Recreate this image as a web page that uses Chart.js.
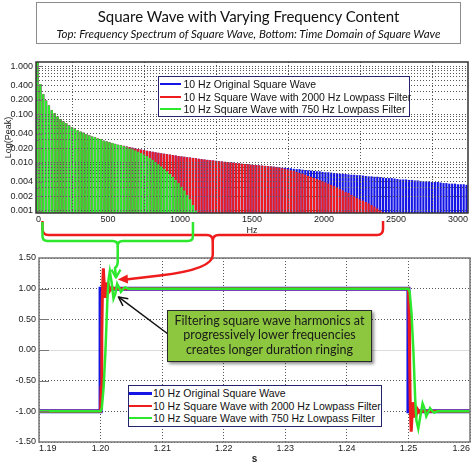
<!DOCTYPE html>
<html>
<head>
<meta charset="utf-8">
<title>Square Wave with Varying Frequency Content</title>
<script src="https://cdn.jsdelivr.net/npm/chart.js@4.4.1/dist/chart.umd.min.js"></script>
<style>
  html, body { margin: 0; padding: 0; background: #fff; }
  #page { position: relative; width: 474px; height: 466px; overflow: hidden; }
  canvas { position: absolute; left: 0; }
  #spectrumChart { top: 50px; }
  #timeChart { top: 245px; }
  #overlay { top: 0; z-index: 2; pointer-events: none; }
  #titleBox { position: absolute; left: 36px; top: 2px; width: 425px; height: 42px; box-sizing: border-box;
    border: 1px solid #8c8c8c; text-align: center; color: #111; font-family: Lato, "Open Sans", sans-serif; z-index: 3; }
  #titleBox .main { font-size: 15px; line-height: 17px; margin-top: 5px; }
  #titleBox .sub { font-size: 11.5px; line-height: 14px; font-style: italic; margin-top: 2px; }
  .legend { position: absolute; background: #fff; border: 1.5px solid #23236e; box-sizing: border-box;
    font-family: "Liberation Sans", Arial, sans-serif; font-size: 10.5px; color: #111; z-index: 3; }
  .legend .row { position: relative; white-space: nowrap; }
  .legend .swatch { position: absolute; top: 50%; }
  #spectrumLegend { left: 158px; top: 76px; width: 252px; height: 41px; padding-top: 1.4px; }
  #spectrumLegend .row { height: 12.2px; line-height: 12.2px; padding-left: 24.5px; }
  #spectrumLegend .swatch { left: 0.5px; width: 21px; }
  #timeLegend { left: 128px; top: 385px; width: 254px; height: 42px; padding-top: 1.2px; }
  #timeLegend .row { height: 12.5px; line-height: 12.5px; padding-left: 24px; }
  #timeLegend .swatch { left: 0; width: 23px; }
  #callout { position: absolute; left: 167px; top: 310px; width: 205px; height: 52px; box-sizing: border-box;
    background: #8dc63f; border: 1.5px solid #2a2a2a; box-shadow: 2px 2px 3px rgba(0,0,0,0.45);
    font-family: Lato, "Open Sans", sans-serif; font-size: 12.5px; line-height: 14.6px; color: #1a1a1a;
    text-align: center; padding-top: 2.9px; z-index: 3; }
</style>
</head>
<body>
<div id="page">
  <div id="titleBox">
    <div class="main">Square Wave with Varying Frequency Content</div>
    <div class="sub">Top: Frequency Spectrum of Square Wave, Bottom: Time Domain of Square Wave</div>
  </div>
  <canvas id="spectrumChart" width="474" height="192"></canvas>
  <canvas id="timeChart" width="474" height="221"></canvas>
  <canvas id="overlay" width="474" height="466"></canvas>
  <div id="spectrumLegend" class="legend"></div>
  <div id="timeLegend" class="legend"></div>
  <div id="callout">Filtering square wave harmonics at<br>progressively lower frequencies<br>creates longer duration ringing</div>
</div>
<script>
// Series names and colours (same order in both plots)
var seriesNames = ['10 Hz Original Square Wave', '10 Hz Square Wave with 2000 Hz Lowpass Filter', '10 Hz Square Wave with 750 Hz Lowpass Filter'];
var seriesColors = ['#1515e6', '#ee1c1c', '#2de82d'];

// Top plot: odd harmonics of 10 Hz and their peak amplitude
var harmonicHz = [
  10, 30, 50, 70, 90, 110, 130, 150, 170, 190,
  210, 230, 250, 270, 290, 310, 330, 350, 370, 390,
  410, 430, 450, 470, 490, 510, 530, 550, 570, 590,
  610, 630, 650, 670, 690, 710, 730, 750, 770, 790,
  810, 830, 850, 870, 890, 910, 930, 950, 970, 990,
  1010, 1030, 1050, 1070, 1090, 1110, 1130, 1150, 1170, 1190,
  1210, 1230, 1250, 1270, 1290, 1310, 1330, 1350, 1370, 1390,
  1410, 1430, 1450, 1470, 1490, 1510, 1530, 1550, 1570, 1590,
  1610, 1630, 1650, 1670, 1690, 1710, 1730, 1750, 1770, 1790,
  1810, 1830, 1850, 1870, 1890, 1910, 1930, 1950, 1970, 1990,
  2010, 2030, 2050, 2070, 2090, 2110, 2130, 2150, 2170, 2190,
  2210, 2230, 2250, 2270, 2290, 2310, 2330, 2350, 2370, 2390,
  2410, 2430, 2450, 2470, 2490, 2510, 2530, 2550, 2570, 2590,
  2610, 2630, 2650, 2670, 2690, 2710, 2730, 2750, 2770, 2790,
  2810, 2830, 2850, 2870, 2890, 2910, 2930, 2950, 2970, 2990
];
var originalPeak = [
  1.27, 0.42, 0.26, 0.19, 0.15, 0.12, 0.103, 0.089, 0.079, 0.070,
  0.064, 0.058, 0.053, 0.050, 0.046, 0.043, 0.041, 0.038, 0.036, 0.034,
  0.033, 0.031, 0.030, 0.028, 0.027, 0.026, 0.025, 0.024, 0.023, 0.0227,
  0.0219, 0.0212, 0.0206, 0.0200, 0.0194, 0.0188, 0.0183, 0.0178, 0.0173, 0.0169,
  0.0165, 0.0161, 0.0157, 0.0153, 0.0150, 0.0147, 0.0144, 0.0141, 0.0138, 0.0135,
  0.0132, 0.0130, 0.0127, 0.0125, 0.0123, 0.0121, 0.0118, 0.0116, 0.0114, 0.0112,
  0.0110, 0.0109, 0.0107, 0.0105, 0.0104, 0.0102, 0.0101, 0.0099, 0.0098, 0.0096,
  0.0095, 0.0093, 0.0092, 0.0091, 0.0089, 0.0088, 0.0087, 0.0086, 0.0085, 0.0084,
  0.0083, 0.0082, 0.0081, 0.0080, 0.0079, 0.0077, 0.0077, 0.0076, 0.0075, 0.0073,
  0.0072, 0.0072, 0.0070, 0.0069, 0.0068, 0.0067, 0.0066, 0.0065, 0.0065, 0.0063,
  0.0062, 0.0062, 0.0061, 0.0060, 0.0059, 0.0058, 0.0058, 0.0057, 0.0056, 0.0055,
  0.0055, 0.0054, 0.0054, 0.0053, 0.0052, 0.0051, 0.0051, 0.0050, 0.0050, 0.0049,
  0.0048, 0.0047, 0.0047, 0.0047, 0.0046, 0.0045, 0.0044, 0.0044, 0.0044, 0.0043,
  0.0043, 0.0042, 0.0042, 0.0041, 0.0040, 0.0040, 0.0040, 0.0039, 0.0039, 0.0039,
  0.0038, 0.0037, 0.0037, 0.0036, 0.0036, 0.0036, 0.0035, 0.0035, 0.0035, 0.0034
];
var lowpass2000Peak = [
  1.27, 0.42, 0.26, 0.19, 0.15, 0.12, 0.103, 0.089, 0.079, 0.070,
  0.064, 0.058, 0.053, 0.050, 0.046, 0.043, 0.041, 0.038, 0.036, 0.034,
  0.033, 0.031, 0.030, 0.028, 0.027, 0.026, 0.025, 0.024, 0.023, 0.0227,
  0.0219, 0.0212, 0.0206, 0.0200, 0.0194, 0.0188, 0.0183, 0.0178, 0.0173, 0.0169,
  0.0165, 0.0161, 0.0157, 0.0153, 0.0150, 0.0147, 0.0144, 0.0141, 0.0138, 0.0135,
  0.0132, 0.0130, 0.0127, 0.0125, 0.0123, 0.0121, 0.0118, 0.0116, 0.0114, 0.0112,
  0.0110, 0.0109, 0.0107, 0.0105, 0.0104, 0.0102, 0.0101, 0.0099, 0.0098, 0.0096,
  0.0095, 0.0093, 0.0092, 0.0091, 0.0089, 0.0088, 0.0087, 0.0086, 0.0085, 0.0084,
  0.0083, 0.0082, 0.0081, 0.0080, 0.0078, 0.0075, 0.0073, 0.0071, 0.0068, 0.0066,
  0.0063, 0.0060, 0.0058, 0.0055, 0.0052, 0.0050, 0.0047, 0.0045, 0.0043, 0.0040,
  0.0038, 0.0036, 0.0034, 0.0032, 0.0030, 0.0028, 0.0026, 0.0024, 0.0023, 0.0021,
  0.0020, 0.0018, 0.0017, 0.0016, 0.0015, 0.0014, 0.0013, 0.0012, 0.0011, 0.0010,
  0.00093
];
var lowpass750Peak = [
  1.27, 0.42, 0.26, 0.19, 0.15, 0.12, 0.103, 0.089, 0.079, 0.070,
  0.064, 0.058, 0.053, 0.050, 0.046, 0.043, 0.041, 0.038, 0.036, 0.034,
  0.033, 0.031, 0.030, 0.028, 0.027, 0.026, 0.025, 0.024, 0.023, 0.0225,
  0.0215, 0.0205, 0.0195, 0.0185, 0.0175, 0.0165, 0.0155, 0.0145, 0.0134, 0.0123,
  0.0112, 0.0101, 0.0091, 0.0082, 0.0073, 0.0065, 0.0057, 0.0050, 0.0043, 0.0037,
  0.0031, 0.0026, 0.0021, 0.0017, 0.0013, 0.0010
];
var spectrumGridValues = [
  0.001, 0.002, 0.003, 0.004, 0.005, 0.006, 0.007, 0.008, 0.009,
  0.01, 0.02, 0.03, 0.04, 0.05, 0.06, 0.07, 0.08, 0.09,
  0.1, 0.2, 0.3, 0.4, 0.5, 0.6, 0.7, 0.8, 0.9, 1
];
var spectrumTickLabels = [0.001, 0.002, 0.004, 0.01, 0.02, 0.04, 0.1, 0.2, 0.4, 1];
var hzTicks = [0, 500, 1000, 1500, 2000, 2500, 3000];

// Bottom plot: time (s) and level of each waveform
var squareTime = [1.19, 1.2, 1.2, 1.25, 1.25, 1.26];
var squareLevel = [-1, -1, 1, 1, -1, -1];
var lowpass2000Time = [1.19, 1.2, 1.2001, 1.2002, 1.2003, 1.20045, 1.2006, 1.2007, 1.2009, 1.2011, 1.2013, 1.2015, 1.2018, 1.2022,
  1.25, 1.2501, 1.2502, 1.2503, 1.25045, 1.2506, 1.2507, 1.2509, 1.2511, 1.2513, 1.2515, 1.2518, 1.2522, 1.26];
var lowpass2000Level = [-1, -1, -0.6, 0.2, 0.95, 1.33, 1.05, 0.85, 1.1, 0.93, 1.05, 0.97, 1.02, 1.0,
  1.0, 0.6, -0.2, -0.95, -1.33, -1.05, -0.85, -1.1, -0.93, -1.05, -0.97, -1.02, -1.0, -1.0];
var lowpass750Time = [1.19, 1.2, 1.2002, 1.2005, 1.2008, 1.2011, 1.2013, 1.2015, 1.2018, 1.2021, 1.2024, 1.2027, 1.2030, 1.2033, 1.2037, 1.2040, 1.2045,
  1.25, 1.2502, 1.2505, 1.2508, 1.2511, 1.2513, 1.2516, 1.2519, 1.2523, 1.2526, 1.2529, 1.2532, 1.2535, 1.2539, 1.2542, 1.2547, 1.26];
var lowpass750Level = [-1, -1, -0.95, -0.6, 0.0, 0.8, 1.15, 1.28, 1.1, 0.84, 0.92, 1.08, 1.02, 0.95, 1.0, 1.02, 1.0,
  1.0, 0.95, 0.6, 0.0, -0.8, -1.15, -1.28, -1.1, -0.87, -0.95, -1.08, -1.02, -0.95, -1.0, -1.02, -1.0, -1.0];
var timeTicks = [1.19, 1.20, 1.21, 1.22, 1.23, 1.24, 1.25, 1.26];
var levelTicks = [-1.5, -1.0, -0.5, 0.0, 0.5, 1.0, 1.5];

// Where the annotation arrows point in the bottom plot (s, level)
var redArrowTip = [1.2028, 1.15];
var greenArrowTip = [1.2025, 1.18];
var blackArrowTip = [1.2029, 0.865];

function toPoints(xs, ys) {
    var pts = [];
    for (var i = 0; i < ys.length; i++) {
        pts.push({ x: xs[i], y: ys[i] });
    }
    return pts;
}

var tickFont = { family: '"Liberation Sans", Arial, sans-serif', size: 9 };

// draws the box round the plot area and the short inner ticks on the y axis
function makeFramePlugin(frameColor, tickLen) {
    return {
        id: 'frame',
        afterDraw: function (chart) {
            var a = chart.chartArea, ctx = chart.ctx;
            ctx.save();
            ctx.strokeStyle = '#777';
            ctx.lineWidth = 1;
            chart.scales.y.ticks.forEach(function (t) {
                var len = tickLen(t.value);
                if (!len) return;
                var y = Math.round(chart.scales.y.getPixelForValue(t.value)) + 0.5;
                ctx.beginPath();
                ctx.moveTo(a.left, y);
                ctx.lineTo(a.left + len, y);
                ctx.stroke();
            });
            ctx.strokeStyle = frameColor;
            ctx.lineWidth = 1.5;
            ctx.strokeRect(a.left, a.top, a.right - a.left, a.bottom - a.top);
            ctx.restore();
        }
    };
}

var spectrumCtx = document.getElementById('spectrumChart').getContext('2d');
var spectrumChart = new Chart(spectrumCtx, {
    type: 'bar',
    data: {
        datasets: [
            { label: seriesNames[0], data: toPoints(harmonicHz, originalPeak), backgroundColor: seriesColors[0], order: 3 },
            { label: seriesNames[1], data: toPoints(harmonicHz, lowpass2000Peak), backgroundColor: seriesColors[1], order: 2 },
            { label: seriesNames[2], data: toPoints(harmonicHz, lowpass750Peak), backgroundColor: seriesColors[2], order: 1 }
        ]
    },
    options: {
        responsive: false,
        animation: false,
        datasets: { bar: { grouped: false, barThickness: 1.5, borderWidth: 0 } },
        layout: { padding: { top: 12, right: 6, left: 0, bottom: 0 } },
        plugins: { legend: { display: false }, tooltip: { enabled: false } },
        scales: {
            x: {
                type: 'linear', min: 0, max: 3000, offset: false,
                afterBuildTicks: function (s) { s.ticks = hzTicks.map(function (v) { return { value: v }; }); },
                afterFit: function (s) { s.height = 29; },
                ticks: {
                    font: tickFont, color: '#222', padding: 1, align: 'inner', maxRotation: 0, autoSkip: false,
                    callback: function (v) { return String(v); }
                },
                grid: { color: '#555', lineWidth: 1, drawTicks: false, z: 1 },
                border: { display: false, dash: [1, 2] },
                title: { display: true, text: 'Hz', font: tickFont, color: '#222', padding: { top: 0, bottom: 6.5 } }
            },
            y: {
                type: 'logarithmic', min: 0.0009, max: 1.22,
                afterBuildTicks: function (s) { s.ticks = spectrumGridValues.map(function (v) { return { value: v }; }); },
                afterFit: function (s) { s.width = 36; },
                ticks: {
                    font: tickFont, color: '#222', padding: 3, autoSkip: false,
                    callback: function (v) { return spectrumTickLabels.indexOf(v) >= 0 ? v.toFixed(3) : ''; }
                },
                grid: { color: '#555', lineWidth: 1, drawTicks: false, z: 1 },
                border: { display: false, dash: [1, 2] },
                title: { display: true, text: 'Log(Peak)', font: tickFont, color: '#222', padding: { top: 3, bottom: 0 } }
            }
        }
    },
    plugins: [makeFramePlugin('#333', function (v) { return spectrumTickLabels.indexOf(v) >= 0 ? 6 : 3; })]
});

var timeCtx = document.getElementById('timeChart').getContext('2d');
var timeChart = new Chart(timeCtx, {
    type: 'line',
    data: {
        datasets: [
            { label: seriesNames[0], data: toPoints(squareTime, squareLevel), borderColor: seriesColors[0], borderWidth: 4, order: 3 },
            { label: seriesNames[1], data: toPoints(lowpass2000Time, lowpass2000Level), borderColor: seriesColors[1], borderWidth: 3, order: 2 },
            { label: seriesNames[2], data: toPoints(lowpass750Time, lowpass750Level), borderColor: seriesColors[2], borderWidth: 2.5, order: 1 }
        ]
    },
    options: {
        responsive: false,
        animation: false,
        elements: { point: { radius: 0 }, line: { tension: 0, fill: false } },
        layout: { padding: { top: 13, right: 4, left: 0, bottom: 0 } },
        plugins: { legend: { display: false }, tooltip: { enabled: false } },
        scales: {
            x: {
                type: 'linear', min: 1.19, max: 1.26, offset: false,
                afterBuildTicks: function (s) { s.ticks = timeTicks.map(function (v) { return { value: v }; }); },
                afterFit: function (s) { s.height = 24; },
                ticks: {
                    font: tickFont, color: '#222', padding: 1, align: 'inner', maxRotation: 0, autoSkip: false,
                    callback: function (v) { return v.toFixed(2); }
                },
                grid: { color: '#555', lineWidth: 1, drawTicks: false },
                border: { display: false, dash: [1, 2] },
                title: { display: true, text: 's', font: { family: '"Liberation Sans", Arial, sans-serif', size: 10, weight: 'bold' }, color: '#222', padding: { top: 0, bottom: 1 } }
            },
            y: {
                type: 'linear', min: -1.5, max: 1.5,
                afterBuildTicks: function (s) { s.ticks = levelTicks.map(function (v) { return { value: v }; }); },
                afterFit: function (s) { s.width = 39; },
                ticks: { font: tickFont, color: '#222', padding: 3, autoSkip: false, callback: function (v) { return v.toFixed(2); } },
                grid: {
                    lineWidth: 1, drawTicks: false,
                    color: function (c) { return c.tick && c.tick.value === 0 ? '#dcdcdc' : '#555'; }
                },
                border: {
                    display: false,
                    dash: function (c) { return c.tick && c.tick.value === 0 ? [] : [1, 2]; }
                }
            }
        }
    },
    plugins: [makeFramePlugin('#777', function (v) { return Math.abs(v) < 1.5 ? 10 : 0; })]
});

// Legends inside the plots
function buildLegend(id, widths) {
    var box = document.getElementById(id);
    for (var i = 0; i < seriesNames.length; i++) {
        var row = document.createElement('div');
        row.className = 'row';
        var sw = document.createElement('span');
        sw.className = 'swatch';
        sw.style.height = widths[i] + 'px';
        sw.style.marginTop = (-widths[i] / 2) + 'px';
        sw.style.background = seriesColors[i];
        row.appendChild(sw);
        row.appendChild(document.createTextNode(seriesNames[i]));
        box.appendChild(row);
    }
}
buildLegend('spectrumLegend', [2, 2, 2]);
buildLegend('timeLegend', [3.5, 2.5, 2]);

// Braces and arrows linking the spectrum to the ringing
var ov = document.getElementById('overlay').getContext('2d');
var SPEC_TOP = 50, TIME_TOP = 245;
function specX(hz) { return spectrumChart.scales.x.getPixelForValue(hz); }
function timeX(t) { return timeChart.scales.x.getPixelForValue(t); }
function timeY(v) { return TIME_TOP + timeChart.scales.y.getPixelForValue(v); }

function drawBrace(x1, x2, yLine, yTop, r, color) {
    var cx = (x1 + x2) / 2;
    ov.beginPath();
    ov.moveTo(x1, yTop);
    ov.lineTo(x1, yLine - r);
    ov.quadraticCurveTo(x1, yLine, x1 + r, yLine);
    ov.lineTo(cx - r, yLine);
    ov.quadraticCurveTo(cx, yLine, cx, yLine + r);
    ov.quadraticCurveTo(cx, yLine, cx + r, yLine);
    ov.lineTo(x2 - r, yLine);
    ov.quadraticCurveTo(x2, yLine, x2, yLine - r);
    ov.lineTo(x2, yTop);
    ov.strokeStyle = color;
    ov.lineWidth = 2.5;
    ov.lineJoin = 'round';
    ov.stroke();
    return cx;
}

function arrowHead(tipX, tipY, fromX, fromY, len, half, color, filled) {
    var ang = Math.atan2(tipY - fromY, tipX - fromX);
    var bx = tipX - len * Math.cos(ang), by = tipY - len * Math.sin(ang);
    var px = -Math.sin(ang) * half, py = Math.cos(ang) * half;
    ov.beginPath();
    ov.moveTo(bx + px, by + py);
    ov.lineTo(tipX, tipY);
    ov.lineTo(bx - px, by - py);
    if (filled) {
        ov.closePath();
        ov.fillStyle = color;
        ov.fill();
    } else {
        ov.strokeStyle = color;
        ov.stroke();
    }
}

// red brace: harmonics kept by the 2000 Hz filter
var redCx = drawBrace(specX(45), specX(2410), 235, 221, 6, seriesColors[1]);
var rtx = timeX(redArrowTip[0]), rty = timeY(redArrowTip[1]);
ov.beginPath();
ov.moveTo(redCx, 241);
ov.lineTo(redCx, 255);
ov.bezierCurveTo(redCx, 266, 190, 272, 160, 275.5);
ov.lineTo(rtx + 8, rty);
ov.strokeStyle = seriesColors[1];
ov.lineWidth = 2.5;
ov.stroke();
arrowHead(rtx, rty, rtx + 10, rty - 0.5, 10, 4.5, seriesColors[1], true);

// green brace: harmonics kept by the 750 Hz filter
var greenCx = drawBrace(specX(45), specX(1090), 241, 222, 5, seriesColors[2]);
var gtx = timeX(greenArrowTip[0]), gty = timeY(greenArrowTip[1]);
ov.beginPath();
ov.moveTo(greenCx, 246);
ov.lineTo(greenCx, 262);
ov.quadraticCurveTo(greenCx, 266, gtx - 1, 268);
ov.lineTo(gtx, gty - 1);
ov.strokeStyle = seriesColors[2];
ov.lineWidth = 2.5;
ov.stroke();
ov.lineWidth = 2.2;
arrowHead(gtx, gty, gtx, gty - 10, 8, 4.5, seriesColors[2], false);

// black arrow from the callout to the ringing
var btx = timeX(blackArrowTip[0]), bty = timeY(blackArrowTip[1]);
ov.beginPath();
ov.moveTo(168, 334);
ov.lineTo(btx, bty);
ov.strokeStyle = '#111';
ov.lineWidth = 1.5;
ov.stroke();
arrowHead(btx, bty, 168, 334, 9, 4.5, '#111', false);
</script>
</body>
</html>
